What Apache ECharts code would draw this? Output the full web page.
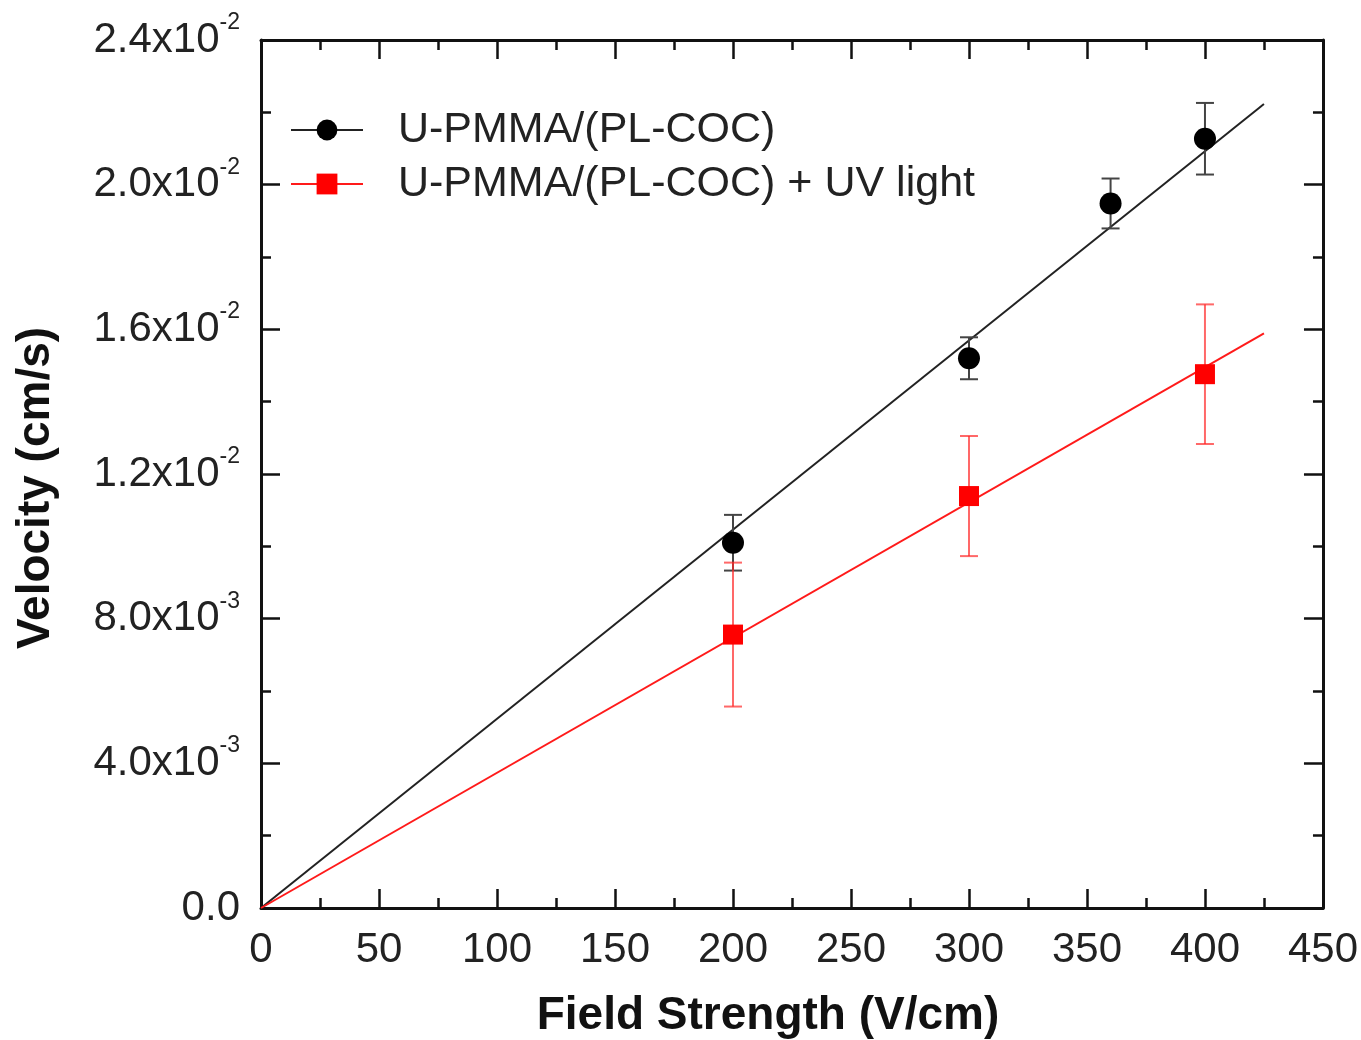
<!DOCTYPE html>
<html>
<head>
<meta charset="utf-8">
<script src="https://cdn.jsdelivr.net/npm/echarts@6/dist/echarts.min.js"></script>
<style>
  html, body { margin: 0; padding: 0; background: #fff; }
  #chart { width: 1361px; height: 1040px; }
</style>
</head>
<body>
<div id="chart"></div>
<script>
// field strength (V/cm)
var fieldBlack = [200, 300, 360, 400];
var velBlack = [0.0101, 0.0152, 0.01948, 0.02127];
var errBlack = [0.00077, 0.00058, 0.00069, 0.00099];

var fieldRed = [200, 300, 400];
var velRed = [0.00756, 0.01139, 0.01476];
var errRed = [0.00199, 0.00166, 0.00193];

// linear fits through the origin
var fitX = [0, 425];
var fitBlack = [0, 0.02223];
var fitRed = [0, 0.01589];

var yTickMant = ['0.0', '4.0', '8.0', '1.2', '1.6', '2.0', '2.4'];
var yTickExp = ['', '-3', '-3', '-2', '-2', '-2', '-2'];

var nameBlack = 'U-PMMA/(PL-COC)';
var nameRed = 'U-PMMA/(PL-COC) + UV light';
var FONT = '"Liberation Sans", Arial, sans-serif';

function pairs(xs, ys) {
  return xs.map(function (x, i) { return [x, ys[i]]; });
}
function errData(xs, ys, es) {
  return xs.map(function (x, i) { return [x, ys[i] - es[i], ys[i] + es[i]]; });
}
function errRender(color) {
  return function (params, api) {
    var lo = api.coord([api.value(0), api.value(1)]);
    var hi = api.coord([api.value(0), api.value(2)]);
    var w = 9;
    var st = { stroke: color, lineWidth: 2 };
    return {
      type: 'group',
      children: [
        { type: 'line', shape: { x1: lo[0], y1: lo[1], x2: hi[0], y2: hi[1] }, style: st },
        { type: 'line', shape: { x1: lo[0] - w, y1: lo[1], x2: lo[0] + w, y2: lo[1] }, style: st },
        { type: 'line', shape: { x1: hi[0] - w, y1: hi[1], x2: hi[0] + w, y2: hi[1] }, style: st }
      ]
    };
  };
}

function axisLine() {
  return { show: true, onZero: false, lineStyle: { color: '#111', width: 3 } };
}
function majorTick() {
  return { show: true, inside: true, length: 19, lineStyle: { color: '#111', width: 2.5 } };
}
function minorTick() {
  return { show: true, splitNumber: 2, length: 10, lineStyle: { color: '#111', width: 2.5 } };
}

var chart = echarts.init(document.getElementById('chart'));
chart.setOption({
  backgroundColor: '#fff',
  animation: false,
  grid: { left: 261, right: 38, top: 40, bottom: 132 },
  legend: {
    left: 290,
    top: 108,
    padding: 0,
    orient: 'vertical',
    itemWidth: 72,
    itemHeight: 26,
    itemGap: 10,
    textStyle: { fontFamily: FONT, fontSize: 43, color: '#222', padding: [0, 0, 0, 30], lineHeight: 44 },
    data: [
      { name: nameBlack, lineStyle: { opacity: 1, width: 2, color: '#222' } },
      { name: nameRed, lineStyle: { opacity: 1, width: 2, color: '#ff1a1a' } }
    ]
  },
  xAxis: [{
    type: 'value', min: 0, max: 450, interval: 50,
    axisLine: axisLine(), axisTick: majorTick(), minorTick: minorTick(),
    splitLine: { show: false },
    axisLabel: { margin: 21, fontFamily: FONT, fontSize: 42, color: '#222' }
  }, {
    type: 'value', position: 'top', min: 0, max: 450, interval: 50,
    axisLine: axisLine(), axisTick: majorTick(), minorTick: minorTick(),
    splitLine: { show: false }, axisLabel: { show: false }
  }],
  yAxis: [{
    type: 'value', min: 0, max: 0.024, interval: 0.004,
    axisLine: axisLine(), axisTick: majorTick(), minorTick: minorTick(),
    splitLine: { show: false },
    axisLabel: {
      margin: 21,
      formatter: function (v) {
        var i = Math.round(v / 0.004);
        if (!yTickExp[i]) return '{a|' + yTickMant[i] + '}';
        return '{a|' + yTickMant[i] + 'x10}{b|' + yTickExp[i] + '}';
      },
      rich: {
        a: { fontFamily: FONT, fontSize: 42, color: '#222', lineHeight: 58, verticalAlign: 'middle' },
        b: { fontFamily: FONT, fontSize: 23, color: '#222', lineHeight: 26, verticalAlign: 'top' }
      }
    }
  }, {
    type: 'value', position: 'right', min: 0, max: 0.024, interval: 0.004,
    axisLine: axisLine(), axisTick: majorTick(), minorTick: minorTick(),
    splitLine: { show: false }, axisLabel: { show: false }
  }],
  graphic: [
    {
      type: 'text', x: 768, y: 1016,
      style: { text: 'Field Strength (V/cm)', font: 'bold 46px ' + FONT, fill: '#111', textAlign: 'center', textVerticalAlign: 'middle' }
    },
    {
      type: 'text', x: 36, y: 488, rotation: Math.PI / 2,
      style: { text: 'Velocity (cm/s)', font: 'bold 46px ' + FONT, fill: '#111', textAlign: 'center', textVerticalAlign: 'middle' }
    }
  ],
  series: [
    {
      name: 'fitBlack', type: 'line', data: pairs(fitX, fitBlack), symbol: 'none',
      lineStyle: { color: '#222', width: 2 }, z: 2, silent: true
    },
    {
      name: 'fitRed', type: 'line', data: pairs(fitX, fitRed), symbol: 'none',
      lineStyle: { color: '#ff1a1a', width: 2 }, z: 2, silent: true
    },
    {
      name: 'errBlack', type: 'custom', data: errData(fieldBlack, velBlack, errBlack),
      renderItem: errRender('#444'), z: 3, silent: true
    },
    {
      name: 'errRed', type: 'custom', data: errData(fieldRed, velRed, errRed),
      renderItem: errRender('rgba(255,40,40,0.7)'), z: 3, silent: true
    },
    {
      name: nameBlack, type: 'line', data: pairs(fieldBlack, velBlack),
      symbol: 'circle', symbolSize: 22, showAllSymbol: true,
      itemStyle: { color: '#000' }, lineStyle: { opacity: 0, color: '#222' }, z: 5
    },
    {
      name: nameRed, type: 'line', data: pairs(fieldRed, velRed),
      symbol: 'rect', symbolSize: 20, showAllSymbol: true,
      itemStyle: { color: '#ff0000' }, lineStyle: { opacity: 0, color: '#ff1a1a' }, z: 5
    }
  ]
});
</script>
</body>
</html>
